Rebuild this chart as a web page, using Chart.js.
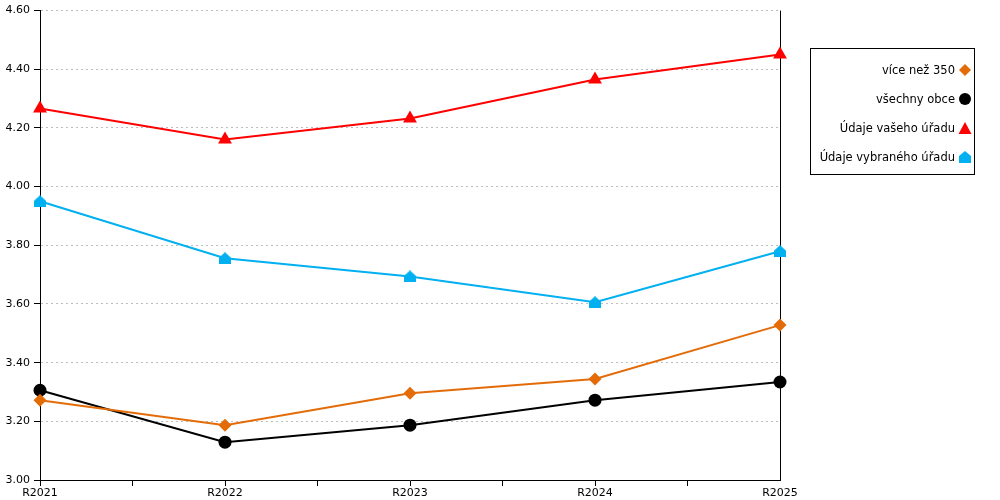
<!DOCTYPE html>
<html>
<head>
<meta charset="utf-8">
<script src="https://cdn.jsdelivr.net/npm/chart.js@4.4.1/dist/chart.umd.min.js"></script>
<style>
  html, body { margin: 0; padding: 0; background: #fff; }
  #wrap { position: relative; width: 1000px; height: 500px; }
  #legend {
    position: absolute; left: 810px; top: 48px; width: 165px; height: 127px;
    border: 1px solid #000; box-sizing: border-box;
    font-family: "DejaVu Sans", sans-serif; font-size: 11.5px; color: #000;
  }
  .row { position: absolute; right: 2px; height: 16px; display: flex; align-items: center; white-space: nowrap; }
  .row canvas { margin-left: 3px; }
</style>
</head>
<body>
<div id="wrap">
  <canvas id="c" width="1000" height="500"></canvas>
  <div id="legend"></div>
</div>
<script>
const categories = ["R2021", "R2022", "R2023", "R2024", "R2025"];
const seriesNames = ["více než 350", "všechny obce", "Údaje vašeho úřadu", "Údaje vybraného úřadu"];
const viceNez350 = [3.272, 3.187, 3.296, 3.344, 3.528];
const vsechnyObce = [3.306, 3.129, 3.187, 3.272, 3.334];
const vasUrad = [4.266, 4.161, 4.232, 4.365, 4.450];
const vybranyUrad = [3.950, 3.756, 3.694, 3.606, 3.780];
const yTicks = { min: 3.0, max: 4.6, step: 0.2 };

function houseCanvas(size, color) {
  const cv = document.createElement('canvas');
  cv.width = size; cv.height = size;
  const g = cv.getContext('2d');
  g.fillStyle = color;
  g.beginPath();
  g.moveTo(size / 2, 0);
  g.lineTo(size, size * 0.45);
  g.lineTo(size, size);
  g.lineTo(0, size);
  g.lineTo(0, size * 0.45);
  g.closePath();
  g.fill();
  return cv;
}

const styles = [
  { color: '#E36C09', point: 'rectRot', radius: 6.5 },
  { color: '#000000', point: 'circle', radius: 6.5 },
  { color: '#FF0000', point: 'triangle', radius: 8 },
  { color: '#00B0F0', point: houseCanvas(12, '#00B0F0'), radius: 6 }
];
const values = [viceNez350, vsechnyObce, vasUrad, vybranyUrad];

const datasets = values.map((vals, i) => ({
  label: seriesNames[i],
  data: vals.map((v, k) => ({ x: k, y: v })),
  borderColor: styles[i].color,
  backgroundColor: styles[i].color,
  pointBackgroundColor: styles[i].color,
  pointBorderColor: styles[i].color,
  pointStyle: styles[i].point,
  pointRadius: styles[i].radius,
  pointHoverRadius: styles[i].radius,
  pointBorderWidth: 0,
  borderWidth: 2,
  tension: 0,
  clip: false
}));

const font = { family: "DejaVu Sans", size: 11 };

new Chart(document.getElementById('c'), {
  type: 'line',
  data: { datasets },
  options: {
    responsive: false,
    animation: false,
    layout: { padding: { top: 10, right: 220, left: 0, bottom: 0 } },
    plugins: { legend: { display: false }, tooltip: { enabled: false } },
    scales: {
      x: {
        type: 'linear',
        min: 0, max: categories.length - 1,
        afterFit: (s) => { s.height = 20; },
        ticks: {
          stepSize: 0.5, autoSkip: false, maxRotation: 0, padding: 1,
          color: '#000', font,
          callback: (v) => Number.isInteger(v) ? categories[v] : ''
        },
        grid: {
          color: (ctx) => (ctx.tick && ctx.tick.value === categories.length - 1) ? '#000' : 'rgba(0,0,0,0)',
          tickColor: (ctx) => (ctx.tick && ctx.tick.value === categories.length - 1) ? 'rgba(0,0,0,0)' : '#000',
          tickLength: 6, lineWidth: 1
        },
        border: { display: true, color: '#000', width: 1 }
      },
      y: {
        min: yTicks.min, max: yTicks.max,
        afterFit: (s) => { s.width = 40; },
        ticks: {
          stepSize: yTicks.step, padding: 4, color: '#000', font,
          callback: (v) => v.toFixed(2)
        },
        grid: { color: '#bdbdbd', tickColor: '#000', tickLength: 6, lineWidth: 1 },
        border: { display: true, color: '#000', width: 1, dash: [2, 3] }
      }
    }
  }
});

// HTML legend
const legend = document.getElementById('legend');
const rowTops = [13, 42, 71, 100];
seriesNames.forEach((name, i) => {
  const row = document.createElement('div');
  row.className = 'row';
  row.style.top = rowTops[i] + 'px';
  const span = document.createElement('span');
  span.textContent = name;
  const mk = document.createElement('canvas');
  mk.width = 14; mk.height = 14;
  const g = mk.getContext('2d');
  const st = styles[i];
  g.fillStyle = st.color;
  g.beginPath();
  if (st.point === 'rectRot') {
    g.moveTo(7, 1); g.lineTo(13, 7); g.lineTo(7, 13); g.lineTo(1, 7);
  } else if (st.point === 'circle') {
    g.arc(7, 7, 6, 0, Math.PI * 2);
  } else if (st.point === 'triangle') {
    g.moveTo(7, 1); g.lineTo(13.5, 13); g.lineTo(0.5, 13);
  } else {
    g.moveTo(7, 1); g.lineTo(13, 6); g.lineTo(13, 13); g.lineTo(1, 13); g.lineTo(1, 6);
  }
  g.closePath();
  g.fill();
  row.appendChild(span);
  row.appendChild(mk);
  legend.appendChild(row);
});
</script>
</body>
</html>
